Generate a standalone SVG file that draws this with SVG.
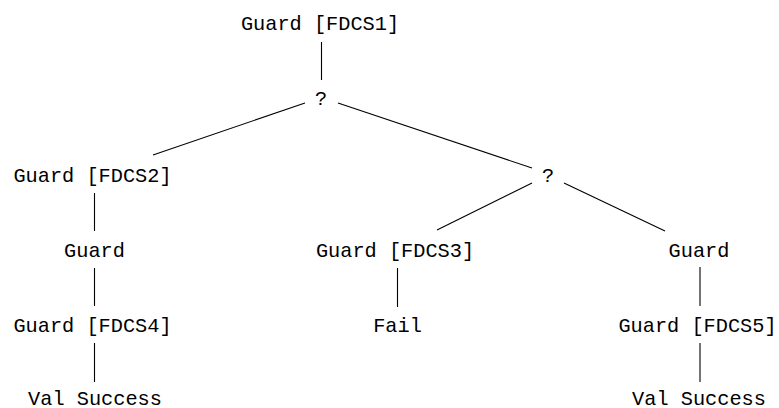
<svg xmlns="http://www.w3.org/2000/svg" width="779" height="408" viewBox="0 0 779 408">
  <style>
    text { font-family: "Liberation Mono", "DejaVu Sans Mono", monospace; font-size: 20.3px; fill: #000; text-anchor: middle; }
    .edge { stroke: #000; stroke-width: 1.1; fill: none; }
  </style>
  <rect width="779" height="408" fill="#fff"/>
  <g id="edges">
    <line class="edge" x1="321.5" y1="42" x2="321.5" y2="80"/>
    <line class="edge" x1="305" y1="103" x2="153" y2="155"/>
    <line class="edge" x1="338" y1="103" x2="532" y2="168"/>
    <line class="edge" x1="94.5" y1="193" x2="94.5" y2="231"/>
    <line class="edge" x1="94.5" y1="268" x2="94.5" y2="306"/>
    <line class="edge" x1="94.5" y1="343" x2="94.5" y2="382"/>
    <line class="edge" x1="532" y1="183" x2="437" y2="230"/>
    <line class="edge" x1="564" y1="183" x2="665" y2="231"/>
    <line class="edge" x1="397.5" y1="268" x2="397.5" y2="307"/>
    <line class="edge" x1="700" y1="267" x2="700" y2="306"/>
    <line class="edge" x1="700" y1="343" x2="700" y2="382"/>
  </g>
  <g id="n-root"><text x="320" y="30">Guard [FDCS1]</text></g>
  <g id="n-sel1"><text x="321" y="105">?</text></g>
  <g id="n-g2"><text x="92.5" y="182">Guard [FDCS2]</text></g>
  <g id="n-sel2"><text x="548" y="182">?</text></g>
  <g id="n-g-left"><text x="94.5" y="257">Guard</text></g>
  <g id="n-g4"><text x="92.5" y="332">Guard [FDCS4]</text></g>
  <g id="n-val-left"><text x="95" y="405">Val Success</text></g>
  <g id="n-g3"><text x="395" y="257">Guard [FDCS3]</text></g>
  <g id="n-fail"><text x="397.5" y="332">Fail</text></g>
  <g id="n-g-right"><text x="699" y="257">Guard</text></g>
  <g id="n-g5"><text x="697.5" y="332">Guard [FDCS5]</text></g>
  <g id="n-val-right"><text x="699" y="405">Val Success</text></g>
</svg>
